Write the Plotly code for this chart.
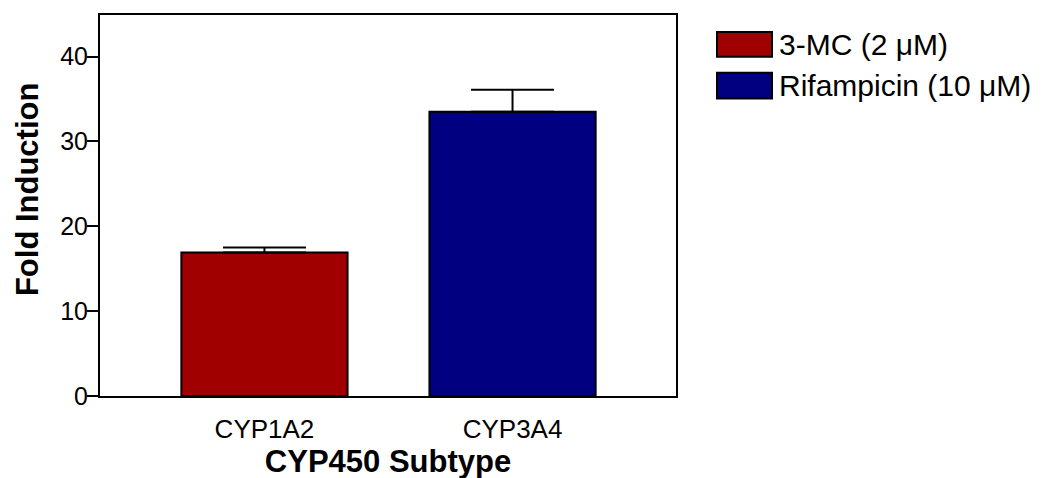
import plotly.graph_objects as go

categories = ["CYP1A2", "CYP3A4"]
series_names = ["3-MC (2 \u03bcM)", "Rifampicin (10 \u03bcM)"]
values = [16.9, 33.5]
errors = [0.6, 2.6]
colors = ["#A00000", "#000080"]
y_ticks = [0, 10, 20, 30, 40]

W, H = 1045, 478
OFF = 8  # default page body margin
L, R, T, B = 100 - OFF, 676 - OFF, 13 - OFF, 396 - OFF
FONT = "Liberation Sans, Arial, sans-serif"

fig = go.Figure()
for cat, name, v, e, c in zip(categories, series_names, values, errors, colors):
    fig.add_trace(go.Bar(
        x=[cat], y=[v], name=name, width=0.67,
        marker=dict(color=c, line=dict(color="black", width=2)),
        error_y=dict(type="data", symmetric=False, array=[e], arrayminus=[0],
                     color="black", thickness=2, width=41.5),
        showlegend=False,
    ))

def px_x(p):
    return (p - OFF - L) / (R - L)

def px_y(p):
    return (B - (p - OFF)) / (B - T)

shapes = []
annotations = []
legend_rows = [(30, 55), (71, 97)]
for (y0, y1), name, c in zip(legend_rows, series_names, colors):
    shapes.append(dict(type="rect", xref="paper", yref="paper",
                       x0=px_x(717), x1=px_x(772), y0=px_y(y1), y1=px_y(y0),
                       fillcolor=c, line=dict(color="black", width=2)))
    annotations.append(dict(xref="paper", yref="paper", x=px_x(777), y=px_y((y0 + y1) / 2),
                            text=name, showarrow=False, xanchor="left", yanchor="middle",
                            font=dict(family=FONT, size=30, color="black")))

# y-axis title placed as in the reference (slightly above the plot's centre)
annotations.append(dict(xref="paper", yref="paper", x=px_x(27), y=px_y(188),
                        text="<b>Fold Induction</b>", textangle=-90, showarrow=False,
                        xanchor="center", yanchor="middle",
                        font=dict(family=FONT, size=31, color="black")))

fig.update_layout(
    width=W, height=H,
    margin=dict(l=L, r=W - R, t=T, b=H - B, pad=0),
    paper_bgcolor="white", plot_bgcolor="white",
    barmode="overlay",
    shapes=shapes, annotations=annotations,
    font=dict(family=FONT, color="black"),
    xaxis=dict(
        type="category", range=[-0.663, 1.659],
        showline=True, linecolor="black", linewidth=2, mirror=True,
        ticks="", ticklabelstandoff=9,
        tickfont=dict(family=FONT, size=26, color="black"),
        title=dict(text="<b>CYP450 Subtype</b>", font=dict(family=FONT, size=31, color="black"), standoff=6),
        showgrid=False, zeroline=False,
    ),
    yaxis=dict(
        range=[0, 44.9], tickvals=y_ticks,
        showline=True, linecolor="black", linewidth=2, mirror=True,
        ticks="outside", ticklen=11, tickwidth=2, tickcolor="black",
        ticklabelstandoff=-6,
        tickfont=dict(family=FONT, size=25, color="black"),
        showgrid=False, zeroline=False,
    ),
)

fig.write_html("out.html")
